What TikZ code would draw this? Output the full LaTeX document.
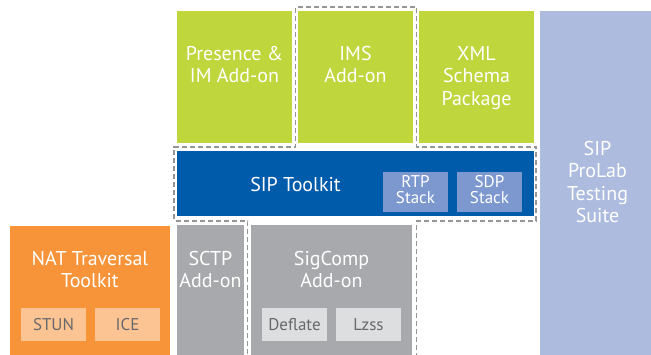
\documentclass[tikz,border=0pt]{standalone}
\usepackage{fontspec}
\setmainfont{PT Sans}
\usetikzlibrary{positioning}

\definecolor{addongreen}{RGB}{191,214,60}
\definecolor{toolkitblue}{RGB}{0,91,170}
\definecolor{stackblue}{RGB}{125,152,206}
\definecolor{prolabblue}{RGB}{173,187,223}
\definecolor{natorange}{RGB}{247,148,58}
\definecolor{natlight}{RGB}{251,196,146}
\definecolor{addongray}{RGB}{167,169,172}
\definecolor{complight}{RGB}{221,222,223}
\definecolor{darktext}{RGB}{105,105,108}
\definecolor{dashgray}{RGB}{150,150,150}

\tikzset{
  box/.style={anchor=north west,inner sep=0pt,outer sep=0pt},
  bigtext/.style={text=white,align=center,inner sep=0pt,
    font=\fontsize{20}{22.5}\selectfont},
  smalltext/.style={align=center,font=\fontsize{17}{16}\selectfont},
  outline/.style={draw=dashgray,line width=1.3pt,dash pattern=on 5pt off 3pt}
}

\begin{document}
\begin{tikzpicture}[x=1pt,y=-1pt]
\useasboundingbox (0,0) rectangle (651,355);
% top row of add-ons
\node[box,fill=addongreen,minimum width=115pt,minimum height=132pt] (presence) at (177,11) {};
\node[box,fill=addongreen,minimum width=115pt,minimum height=132pt] (ims) at (298,11) {};
\node[box,fill=addongreen,minimum width=115pt,minimum height=132pt] (xml) at (419,11) {};
\node[box,fill=prolabblue,minimum width=111pt,minimum height=344pt] (prolab) at (540,11) {};
% toolkit with its stacks
\node[box,fill=toolkitblue,minimum width=357pt,minimum height=65pt] (toolkit) at (177,151) {};
\node[box,fill=stackblue,minimum width=65pt,minimum height=40pt] (rtp) at (383,172) {};
\node[box,fill=stackblue,minimum width=65pt,minimum height=40pt] (sdp) at (457,172) {};
% bottom row
\node[box,fill=natorange,minimum width=160pt,minimum height=129pt] (nat) at (10,226) {};
\node[box,fill=natlight,smalltext,text=darktext,minimum width=65pt,minimum height=33pt] (stun) at (21,308) {STUN};
\node[box,fill=natlight,smalltext,text=darktext,minimum width=65pt,minimum height=33pt] (ice) at (95,308) {ICE};
\node[box,fill=addongray,minimum width=67pt,minimum height=130pt] (sctp) at (177,225) {};
\node[box,fill=addongray,minimum width=161pt,minimum height=130pt] (sigcomp) at (251,225) {};
\node[box,fill=complight,smalltext,text=darktext,minimum width=65pt,minimum height=33pt] (deflate) at (262,308) {Deflate};
\node[box,fill=complight,smalltext,text=darktext,minimum width=65pt,minimum height=33pt] (lzss) at (336,308) {Lzss};

% labels
\node[bigtext,below=35pt of presence.north] (presencetext) {Presence \&\\IM Add-on};
\node[bigtext,below=35pt of ims.north] (imstext) {IMS\\Add-on};
\node[bigtext,below=35pt of xml.north] (xmltext) {XML\\Schema\\Package};
\node[bigtext,below=130pt of prolab.north,xshift=2pt] (prolabtext) {SIP\\ProLab\\Testing\\Suite};
\node[bigtext] (toolkittext) at ([xshift=-60pt,yshift=-1pt]toolkit.center) {SIP Toolkit};
\node[smalltext,text=white] (rtptext) at ([yshift=2pt]rtp.center) {RTP\\Stack};
\node[smalltext,text=white] (sdptext) at ([yshift=2pt]sdp.center) {SDP\\Stack};
\node[bigtext,below=25pt of nat.north] (nattext) {NAT Traversal\\Toolkit};
\node[bigtext,below=26pt of sctp.north] (sctptext) {SCTP\\Add-on};
\node[bigtext,below=26pt of sigcomp.north] (sigcomptext) {SigComp\\Add-on};

% dashed outline
\draw[outline] (416.5,358) -- (416.5,221) -- (536,221) -- (536,147) -- (416.5,147)
  -- (416.5,7) -- (295.5,7) -- (295.5,147) -- (174,147) -- (174,221)
  -- (247.5,221) -- (247.5,358);
\end{tikzpicture}
\end{document}
